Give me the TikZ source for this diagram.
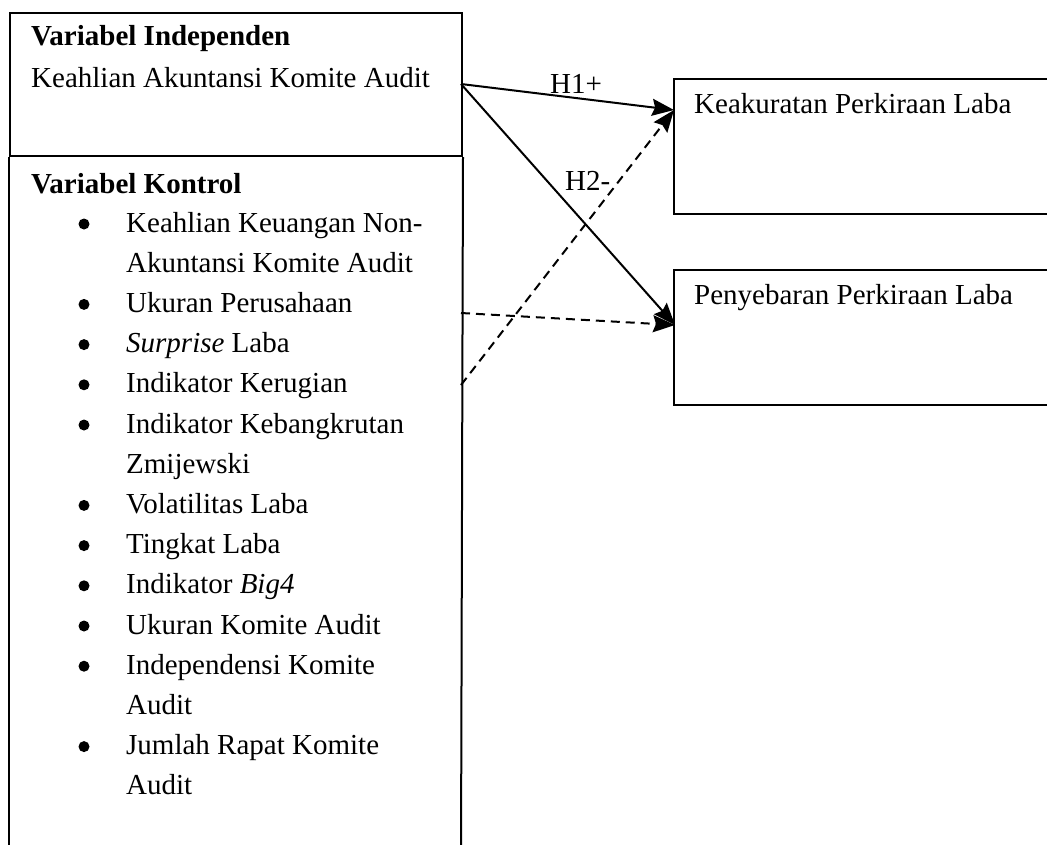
\documentclass[tikz,border=0pt]{standalone}
\usepackage{fontspec}
\setmainfont{Liberation Serif}
\usetikzlibrary{arrows.meta}
\tikzset{
  txt/.style={anchor=base west, inner sep=0pt, font=\fontsize{29}{40}\selectfont},
  box/.style={draw, line width=2pt, inner sep=0pt, anchor=north west},
  dot/.style={circle, fill, inner sep=0pt, minimum size=11pt},
  link/.style={line width=2pt, -{Stealth[length=22pt,width=17pt,inset=3pt]}},
  ctrl/.style={link, dash pattern=on 9pt off 6pt}
}
\begin{document}
\begin{tikzpicture}[x=1pt, y=-1pt]
    \useasboundingbox (0,0) rectangle (1047,844);
    \clip (0,0) rectangle (1047,844);
    % Left box: independent and control variables
    \node[box, minimum width=452pt, minimum height=143pt] (indep) at (9,12) {};
    \draw[line width=2pt] (indep.south west) -- (9,860); % left side
    \draw[line width=2pt] (indep.south east) -- (461,860); % right side
    \node[txt] (indep-title) at (31,45) {\textbf{Variabel Independen}};
    \node[txt] (indep-var) at (31,87) {Keahlian Akuntansi Komite Audit};
    \node[txt] (kontrol-title) at (31,193) {\textbf{Variabel Kontrol}};
    % Control variable list
    \foreach \i/\t in {0/Keahlian Keuangan Non-, 1/Akuntansi Komite Audit,
        2/Ukuran Perusahaan, 3/\textit{Surprise} Laba, 4/Indikator Kerugian,
        5/Indikator Kebangkrutan, 6/Zmijewski, 7/Volatilitas Laba,
        8/Tingkat Laba, 9/Indikator \textit{Big4}, 10/Ukuran Komite Audit,
        11/Independensi Komite, 12/Audit, 13/Jumlah Rapat Komite, 14/Audit}
        \node[txt] (item\i) at (126,{232+40.2*\i}) {\t};
    \foreach \i in {0,2,3,4,5,7,8,9,10,11,13}
        \node[dot] (dot\i) at (84,{224+40.2*\i}) {};
    % Dependent variables
    \node[box, minimum width=420pt, minimum height=135pt] (akurat) at (673,78) {};
    \node[txt] (akurat-t) at (694,113) {Keakuratan Perkiraan Laba};
    \node[box, minimum width=420pt, minimum height=135pt] (sebar) at (673,269) {};
    \node[txt] (sebar-t) at (694,304) {Penyebaran Perkiraan Laba};
    % Connector ends
    \coordinate (src) at (461,84);
    \coordinate (src-size) at (461,313);
    \coordinate (src-loss) at (461,385);
    \coordinate (akurat-in) at (674,110);
    \coordinate (sebar-in) at (675,325);
    % Hypotheses
    \draw[link] (src) -- (akurat-in);
    \draw[link] (src) -- (sebar-in);
    \node[txt] (h1) at (550,93) {H1+};
    \node[txt] (h2) at (565,190) {H2-};
    % Control links
    \draw[ctrl] (src-size) -- (sebar-in);
    \draw[ctrl] (src-loss) -- (akurat-in);
\end{tikzpicture}
\end{document}
